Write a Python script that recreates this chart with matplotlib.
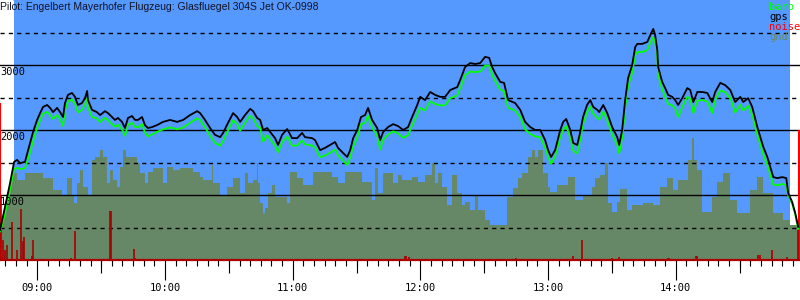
import matplotlib
matplotlib.use('Agg')
import matplotlib.pyplot as plt
from matplotlib.patches import Rectangle
from matplotlib.ticker import MultipleLocator

# times are minutes since midnight, altitudes in metres
title = 'Pilot: Engelbert Mayerhofer Flugzeug: Glasfluegel 304S Jet OK-0998'

track_t = [
    522.5, 524.8, 527.2, 529.1, 530.5, 531.9, 534.2, 536.6, 538.0, 539.9,
    541.3, 542.7, 544.6, 546.0, 547.4, 549.3, 550.7, 552.1, 553.0, 554.4,
    556.3, 557.7, 559.1, 561.0, 562.4, 563.4, 563.8, 565.7, 568.0, 569.5,
    571.8, 573.2, 575.1, 576.5, 577.9, 579.8, 581.2, 582.6, 584.5, 585.9,
    587.3, 589.2, 590.6, 592.0, 593.9, 596.2, 599.1, 602.4, 605.7, 608.5,
    611.8, 615.1, 616.5, 618.8, 621.2, 623.5, 625.9, 627.3, 629.6, 632.0,
    633.9, 635.3, 637.6, 640.0, 641.4, 643.3, 644.7, 646.1, 648.0, 649.4,
    651.7, 653.1, 655.0, 657.4, 659.7, 662.1, 664.4, 665.8, 669.1, 670.5,
    672.9, 675.2, 677.6, 679.9, 681.3, 683.7, 685.6, 687.0, 688.4, 690.3,
    692.1, 694.0, 695.4, 697.3, 699.7, 701.1, 702.5, 704.8, 707.2, 709.5,
    711.9, 714.2, 716.1, 718.5, 719.9, 722.2, 724.6, 726.9, 729.3, 731.6,
    734.0, 737.3, 738.7, 741.0, 743.4, 745.7, 748.1, 750.4, 752.3, 753.7,
    755.1, 757.5, 759.3, 761.2, 764.5, 766.9, 769.2, 771.6, 773.9, 776.3,
    778.6, 780.0, 781.4, 783.3, 785.7, 787.1, 788.5, 790.4, 791.8, 793.7,
    795.0, 796.4, 798.3, 799.8, 801.2, 803.1, 804.0, 805.9, 807.8, 810.1,
    812.5, 813.4, 814.8, 816.2, 817.6, 819.5, 820.9, 821.9, 824.2, 826.6,
    828.0, 829.4, 830.3, 831.3, 831.7, 833.6, 835.0, 836.4, 838.3, 839.7,
    841.1, 843.0, 845.4, 846.8, 848.2, 850.1, 852.4, 854.8, 857.1, 858.5,
    860.9, 863.2, 865.6, 867.9, 870.3, 871.7, 874.0, 875.9, 878.3, 879.7,
    881.1, 883.0, 884.4, 885.8, 887.7, 890.0, 891.9, 892.8, 894.7, 896.1,
    897.5]

gps_alt = [
    460, 815, 1185, 1510, 1540, 1490, 1510, 1800, 1970, 2155,
    2260, 2355, 2385, 2340, 2275, 2340, 2275, 2200, 2415, 2540,
    2570, 2510, 2385, 2415, 2490, 2600, 2460, 2310, 2275, 2230,
    2290, 2260, 2200, 2155, 2185, 2125, 2030, 2185, 2215, 2155,
    2155, 2200, 2075, 2030, 2045, 2075, 2125, 2155, 2125, 2155,
    2230, 2290, 2260, 2155, 2030, 1925, 1890, 1955, 2110, 2260,
    2200, 2125, 2230, 2325, 2290, 2185, 2155, 2000, 2030, 1970,
    1875, 1770, 1925, 2015, 1875, 1875, 1955, 1890, 1875, 1845,
    1690, 1725, 1770, 1815, 1725, 1645, 1585, 1690, 1875, 2000,
    2200, 2230, 2340, 2155, 2030, 1845, 1970, 2045, 2090, 2060,
    2000, 2045, 2200, 2385, 2510, 2460, 2585, 2540, 2510, 2510,
    2615, 2660, 2770, 2970, 3030, 3015, 3030, 3125, 3110, 2970,
    2875, 2740, 2725, 2460, 2415, 2310, 2125, 2045, 2000, 2000,
    1845, 1690, 1585, 1690, 2000, 2125, 2170, 2000, 1800, 1770,
    1955, 2200, 2385, 2460, 2355, 2310, 2275, 2385, 2260, 2045,
    1890, 1770, 2000, 2460, 2800, 3000, 3275, 3325, 3325, 3355,
    3460, 3555, 3460, 3230, 2970, 2740, 2645, 2540, 2510, 2460,
    2385, 2490, 2645, 2615, 2430, 2585, 2585, 2570, 2430, 2585,
    2725, 2690, 2615, 2430, 2510, 2430, 2490, 2355, 2045, 1890,
    1740, 1585, 1430, 1275, 1260, 1275, 1260, 1030, 890, 725,
    510]

baro_alt = [
    440, 700, 1080, 1400, 1420, 1400, 1410, 1650, 1830, 2030,
    2150, 2250, 2280, 2230, 2170, 2230, 2170, 2060, 2300, 2440,
    2470, 2400, 2270, 2310, 2390, 2490, 2350, 2200, 2180, 2120,
    2190, 2150, 2090, 2050, 2080, 2010, 1910, 2080, 2110, 2050,
    2040, 2090, 1960, 1900, 1930, 1970, 2010, 2040, 2010, 2040,
    2110, 2180, 2150, 2040, 1910, 1800, 1760, 1830, 1990, 2150,
    2090, 1990, 2110, 2220, 2180, 2060, 2030, 1820, 1920, 1860,
    1760, 1660, 1810, 1900, 1760, 1760, 1840, 1780, 1760, 1730,
    1580, 1610, 1650, 1700, 1610, 1530, 1460, 1570, 1750, 1880,
    2090, 2110, 2220, 2040, 1910, 1700, 1850, 1930, 1980, 1950,
    1880, 1920, 2070, 2240, 2340, 2300, 2440, 2400, 2380, 2380,
    2490, 2530, 2640, 2840, 2900, 2890, 2900, 2990, 2990, 2850,
    2760, 2620, 2600, 2340, 2300, 2200, 2010, 1940, 1900, 1890,
    1730, 1580, 1480, 1590, 1890, 2010, 2060, 1890, 1680, 1640,
    1840, 2090, 2270, 2360, 2250, 2190, 2160, 2280, 2150, 1930,
    1770, 1640, 1880, 2340, 2680, 2880, 3150, 3200, 3200, 3230,
    3340, 3430, 3340, 3110, 2850, 2620, 2510, 2400, 2380, 2330,
    2200, 2350, 2510, 2480, 2260, 2450, 2460, 2440, 2260, 2460,
    2610, 2580, 2490, 2270, 2390, 2300, 2370, 2230, 1920, 1770,
    1620, 1460, 1310, 1160, 1150, 1170, 1150, 1000, 860, 700,
    480]

gnd_t = [
    522.5, 528.6, 530.5, 534.2, 542.7, 547.4, 551.6, 554.0, 556.3, 557.2,
    558.7, 560.1, 561.5, 563.8, 565.7, 567.1, 569.5, 570.9, 572.7, 574.2,
    575.6, 577.4, 578.9, 580.3, 581.7, 586.8, 588.2, 590.6, 592.0, 594.4,
    599.1, 600.9, 603.8, 607.0, 613.2, 616.4, 617.9, 622.1, 622.6, 625.8,
    629.1, 632.0, 635.2, 637.6, 639.0, 641.3, 643.2, 643.7, 644.6, 646.0,
    647.0, 648.4, 650.3, 651.7, 657.3, 658.7, 662.0, 664.8, 669.5, 678.5,
    681.3, 684.6, 692.6, 697.3, 698.7, 700.1, 702.4, 707.1, 709.5, 711.4,
    716.1, 718.9, 722.2, 725.4, 726.9, 728.3, 730.1, 732.5, 734.8, 737.2,
    739.5, 741.0, 743.3, 745.6, 747.1, 750.4, 752.7, 760.7, 763.5, 765.9,
    767.7, 770.6, 772.4, 773.8, 775.2, 777.6, 780.0, 780.9, 784.2, 789.3,
    792.6, 796.4, 800.6, 802.0, 804.4, 806.7, 808.1, 810.0, 812.4, 813.8,
    817.1, 819.4, 824.6, 829.3, 832.6, 835.9, 838.7, 841.0, 845.7, 847.6,
    848.5, 850.0, 852.3, 857.0, 859.4, 862.2, 865.5, 868.7, 874.9, 878.2,
    881.0, 885.7, 890.4, 893.7, 897.5]

gnd_alt = [
    1310, 1340, 1230, 1340, 1260, 1080, 1000, 1260, 1000, 875,
    1185, 1385, 1125, 1000, 1540, 1585, 1690, 1585, 1185, 1385,
    1230, 1125, 1430, 1690, 1585, 1490, 1340, 1185, 1355, 1415,
    1185, 1430, 1385, 1415, 1355, 1275, 1230, 1460, 1185, 1000,
    1125, 1260, 1030, 1340, 1185, 1230, 1490, 1185, 875, 725,
    800, 1030, 1155, 970, 875, 1355, 1260, 1155, 1355, 1275,
    1185, 1355, 1200, 925, 1415, 1030, 1340, 1185, 1310, 1230,
    1275, 1200, 1310, 1490, 1185, 1340, 1125, 845, 1310, 1030,
    845, 890, 770, 1000, 770, 615, 540, 970, 1105, 1260,
    1340, 1585, 1690, 1585, 1690, 1340, 1125, 1045, 1155, 1275,
    925, 1000, 1125, 1260, 1310, 1490, 875, 740, 890, 1095,
    770, 845, 875, 845, 1125, 1260, 1075, 1230, 1540, 1875,
    1540, 1385, 740, 970, 1200, 1340, 925, 725, 1075, 1275,
    1030, 725, 615, 540, 540]

noise_t = [
    523.0, 523.9, 524.8, 525.8, 528.1, 530.5, 532.3, 533.3, 533.8, 537.5,
    538.0, 555.8, 557.7, 574.2, 574.6, 585.4, 585.9, 712.8, 713.2, 714.6,
    734.4, 764.9, 765.9, 791.7, 795.9, 810.0, 813.3, 831.6, 836.3, 836.8,
    841.5, 849.5, 850.0, 857.5, 878.6, 879.6, 885.2, 892.2, 897.6]
noise_v = [
    1000, 310, 155, 230, 585, 155, 785, 290, 355, 60,
    310, 30, 445, 755, 755, 170, 30, 65, 65, 40,
    15, 30, 15, 60, 310, 30, 45, 15, 30, 30,
    15, 60, 60, 15, 75, 75, 155, 45, 460]

# engine noise at launch and landing (bright red)
engine_t = [522.6, 897.9]
engine_v = [2420, 2000]

flight_start, flight_end = 528.6, 893.7
hour_ticks = [540, 600, 660, 720, 780, 840]
hour_labels = ['09:00', '10:00', '11:00', '12:00', '13:00', '14:00']
half_ticks = [570, 630, 690, 750, 810, 870]
solid_levels = [1000, 2000, 3000]
dashed_levels = [500, 1500, 2500, 3500]

mono = 'DejaVu Sans Mono'
blue = '#5599ff'
gnd_col = '#668866'
dark_red = '#aa0000'

fig = plt.figure(figsize=(8, 3), dpi=100)
ax = fig.add_axes([0, 40 / 300, 1, 260 / 300])
ax.set_xlim(522.47, 898.35)
ax.set_ylim(0, 4000)
ax.set_facecolor('white')
for s in ax.spines.values():
    s.set_visible(False)

ax.axvspan(flight_start, flight_end, color=blue, lw=0, zorder=0)
ax.fill_between(gnd_t, gnd_alt, 0, step='post', color=gnd_col, lw=0, zorder=1)

# white sky above the track outside the flight window
for lo, hi in [(522.47, flight_start), (flight_end, 898.35)]:
    poly = ax.fill_between(track_t, gps_alt, 4000, color='white', lw=0, zorder=1.5)
    poly.set_clip_path(Rectangle((lo, 0), hi - lo, 4000, transform=ax.transData))

for v in solid_levels:
    ax.axhline(v, color='black', lw=1, zorder=2)
for v in dashed_levels:
    ax.axhline(v, color='black', lw=1, ls=(0, (3, 3)), zorder=2)

ax.vlines(engine_t, 0, engine_v, color='#ff0000', lw=1.5, zorder=3)
ax.vlines(noise_t, 0, noise_v, color=dark_red, lw=1.2, zorder=3.5)
ax.axhline(0, color=dark_red, lw=1.6, zorder=3.5, clip_on=False)

ax.plot(track_t, baro_alt, color='#00ff00', lw=1.3, zorder=4)
ax.plot(track_t, gps_alt, color='black', lw=1.3, zorder=5)

for v in solid_levels:
    ax.annotate(str(v), xy=(522.47, v), xytext=(0, -1.5), textcoords='offset points',
                ha='left', va='top', family=mono, fontsize=7.5, zorder=6)

ax.set_yticks([])
ax.set_xticks(hour_ticks, hour_labels)
ax.xaxis.set_minor_locator(MultipleLocator(5))
ax.tick_params(axis='x', which='major', length=14.4, width=0.8, pad=2,
               labelsize=7.5, labelfontfamily=mono)
ax.tick_params(axis='x', which='minor', length=4.3, width=0.8)
sec = ax.secondary_xaxis('bottom')
sec.set_xticks(half_ticks, [''] * len(half_ticks))
sec.tick_params(length=9.4, width=0.8)
sec.spines['bottom'].set_visible(False)

fig.text(0, 1 - 7 / 300, title, family='Liberation Sans', fontsize=7.5,
         va='center', ha='left', color='#111122')
for i, (name, col) in enumerate([('baro', '#00ff00'), ('gps', 'black'),
                                 ('noise', '#ff0000'), ('gnd', gnd_col)]):
    fig.text(769 / 800, 1 - (6.7 + 10 * i) / 300, name, family=mono, fontsize=7.5,
             color=col, va='center', ha='left')

fig.savefig('out.png', dpi=100)
